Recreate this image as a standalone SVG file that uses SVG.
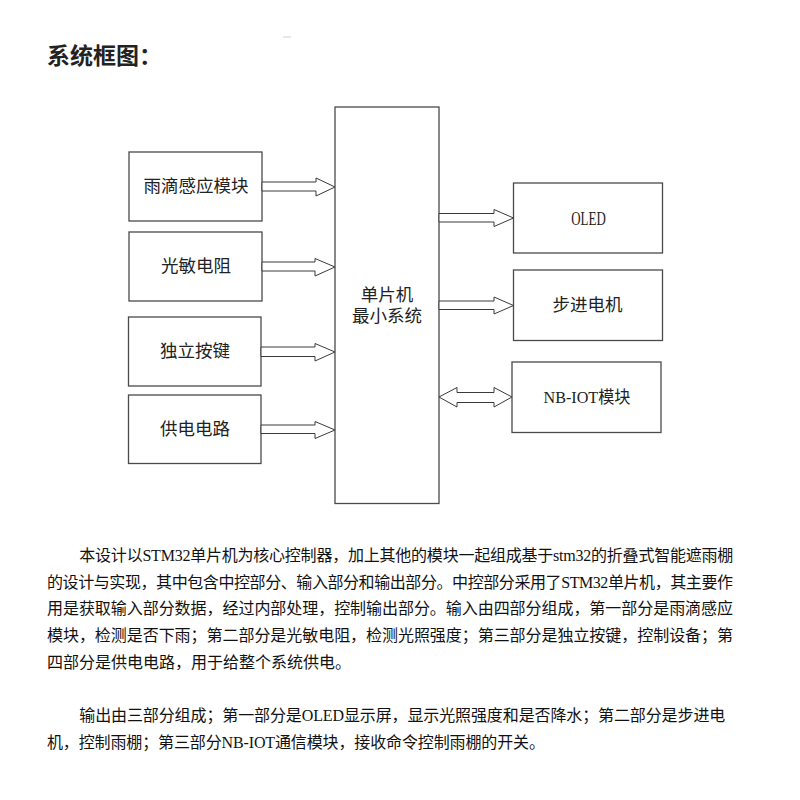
<svg xmlns="http://www.w3.org/2000/svg" width="800" height="800" viewBox="0 0 800 800">
<style>
.box{fill:#fff;stroke:#4a4a4a;stroke-width:1.3}
.arr{fill:#fff;stroke:#3a3a3a;stroke-width:1}
.lbl{font-family:"Liberation Serif","Noto Sans CJK SC",serif;font-size:17.5px;fill:#222;text-anchor:middle}
.para{font-family:"Liberation Serif","Noto Sans CJK SC",serif;font-size:16px;fill:#111}
.title{font-family:"Noto Sans CJK SC","Noto Sans",sans-serif;font-size:23px;font-weight:bold;fill:#222}
</style>
<rect width="800" height="800" fill="#fff"/>
<text class="title" x="47" y="63.5">系统框图：</text>
<line x1="283" y1="37" x2="291" y2="37" stroke="#d0d0d0" stroke-width="1"/>

<g id="mcu">
<rect class="box" x="335" y="107" width="104" height="396.5"/>
<text class="lbl" x="387" y="301" font-size="17">单片机</text>
<text class="lbl" x="387" y="322" font-size="17">最小系统</text>
</g>
<g id="rain">
<rect class="box" x="129" y="152" width="133" height="69"/>
<text class="lbl" x="196" y="191.5">雨滴感应模块</text>
</g>
<g id="ldr">
<rect class="box" x="129" y="232" width="133" height="69"/>
<text class="lbl" x="196" y="272">光敏电阻</text>
</g>
<g id="key">
<rect class="box" x="128.5" y="317" width="132.5" height="69"/>
<text class="lbl" x="195" y="357">独立按键</text>
</g>
<g id="power">
<rect class="box" x="128.5" y="395" width="132.5" height="68.5"/>
<text class="lbl" x="195" y="435">供电电路</text>
</g>
<g id="oled">
<rect class="box" x="513.5" y="183" width="149" height="70"/>
<text class="lbl" transform="translate(588.5,224.5) scale(0.68,1)" x="0" y="0" style="font-size:19px">OLED</text>
</g>
<g id="stepper">
<rect class="box" x="513.5" y="270" width="149" height="70.5"/>
<text class="lbl" x="587.5" y="311">步进电机</text>
</g>
<g id="nbiot">
<rect class="box" x="512" y="362" width="149" height="70.5"/>
<text class="lbl" x="587" y="403" textLength="87" lengthAdjust="spacingAndGlyphs">NB-IOT模块</text>
</g>

<g id="connectors">
<polygon class="arr" points="262,182 316,182 316,178 335,187 316,196 316,191 262,191"/>
<polygon class="arr" points="262,262 315,262 315,258.5 335,267 315,276 315,271 262,271"/>
<polygon class="arr" points="261,347 315,347 315,343.5 335,352 315,361 315,356.5 261,356.5"/>
<polygon class="arr" points="261,425 315,425 315,421.5 335,430 315,438.5 315,433.5 261,433.5"/>
<polygon class="arr" points="439,213.5 494,213.5 494,209.5 513.5,218 494,226.5 494,222 439,222"/>
<polygon class="arr" points="439,301 494,301 494,297 513.5,305.5 494,314 494,309.5 439,309.5"/>
<polygon class="arr" points="439,397 457,387.5 457,392.5 494,392.5 494,387.5 512,397 494,407 494,402.5 457,402.5 457,407"/>
</g>

<g id="text-body">
<text class="para" x="79.3" y="561" textLength="654" lengthAdjust="spacing">本设计以STM32单片机为核心控制器，加上其他的模块一起组成基于stm32的折叠式智能遮雨棚</text>
<text class="para" x="47" y="587.5" textLength="686" lengthAdjust="spacing">的设计与实现，其中包含中控部分、输入部分和输出部分。中控部分采用了STM32单片机，其主要作</text>
<text class="para" x="47" y="614" textLength="686" lengthAdjust="spacing">用是获取输入部分数据，经过内部处理，控制输出部分。输入由四部分组成，第一部分是雨滴感应</text>
<text class="para" x="47" y="641" textLength="686" lengthAdjust="spacing">模块，检测是否下雨；第二部分是光敏电阻，检测光照强度；第三部分是独立按键，控制设备；第</text>
<text class="para" x="47" y="667.5">四部分是供电电路，用于给整个系统供电。</text>
<text class="para" x="79.3" y="721" textLength="646" lengthAdjust="spacing">输出由三部分组成；第一部分是OLED显示屏，显示光照强度和是否降水；第二部分是步进电</text>
<text class="para" x="47" y="747.5" textLength="498" lengthAdjust="spacing">机，控制雨棚；第三部分NB-IOT通信模块，接收命令控制雨棚的开关。</text>
</g>
</svg>
